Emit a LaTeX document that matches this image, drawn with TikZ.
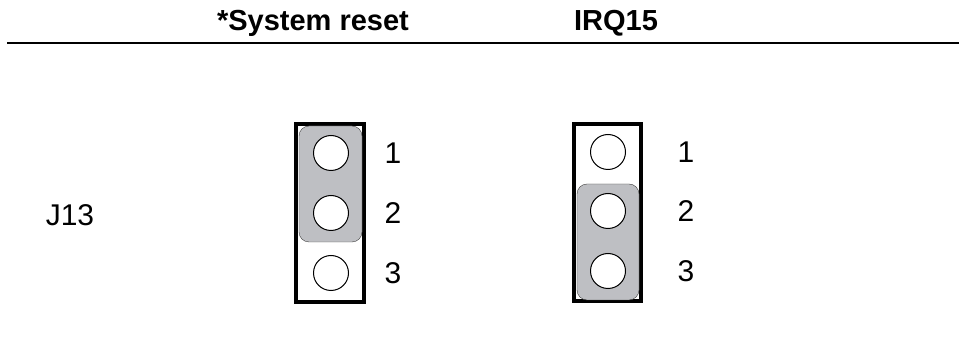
\documentclass[tikz,border=0pt]{standalone}
\usepackage{fontspec}
\setmainfont{Liberation Sans}
\definecolor{capgray}{RGB}{190,191,195}
\tikzset{
    pin/.style = {circle, draw, line width = 1pt, fill = white, minimum size = 35pt, inner sep = 0pt},
    pinlabel/.style = {font = \fontsize{30}{32}\selectfont},
    header/.style = {font = \fontsize{29}{31}\selectfont\bfseries},
    housing/.style = {draw, line width = 4pt},
    jumpercap/.style = {draw = black!75, fill = capgray, rounded corners = 10pt}
}
\begin{document}
\begin{tikzpicture}[x = 1pt, y = -1pt]
        \useasboundingbox (0,0) rectangle (959,352);
        \node[header] (reset) at (313,23) {*System reset};
        \node[header] (irq) at (616,23) {IRQ15};
        \draw[line width = 1.5pt] (7,43) -- (959,43);
        \node[pinlabel] (J13) at (70,215) {J13};
        \begin{scope}[name prefix = reset-]
            \draw[housing] (296,124) rectangle (364,302);
            \draw[jumpercap] (299,126) rectangle (362,242);
            \node[pin] (1) at (331,153) {};
            \node[pin] (2) at (331,213) {};
            \node[pin] (3) at (331,273) {};
            \node[pinlabel] (L1) at (393,153) {1};
            \node[pinlabel] (L2) at (393,213) {2};
            \node[pinlabel] (L3) at (393,273) {3};
        \end{scope}
        \begin{scope}[name prefix = irq-]
            \draw[housing] (574,124) rectangle (641,301);
            \draw[jumpercap] (577,184) rectangle (639,300);
            \node[pin] (1) at (608,152) {};
            \node[pin] (2) at (608,211) {};
            \node[pin] (3) at (608,271) {};
            \node[pinlabel] (L1) at (686,152) {1};
            \node[pinlabel] (L2) at (686,211) {2};
            \node[pinlabel] (L3) at (686,271) {3};
        \end{scope}
    \end{tikzpicture}
\end{document}
